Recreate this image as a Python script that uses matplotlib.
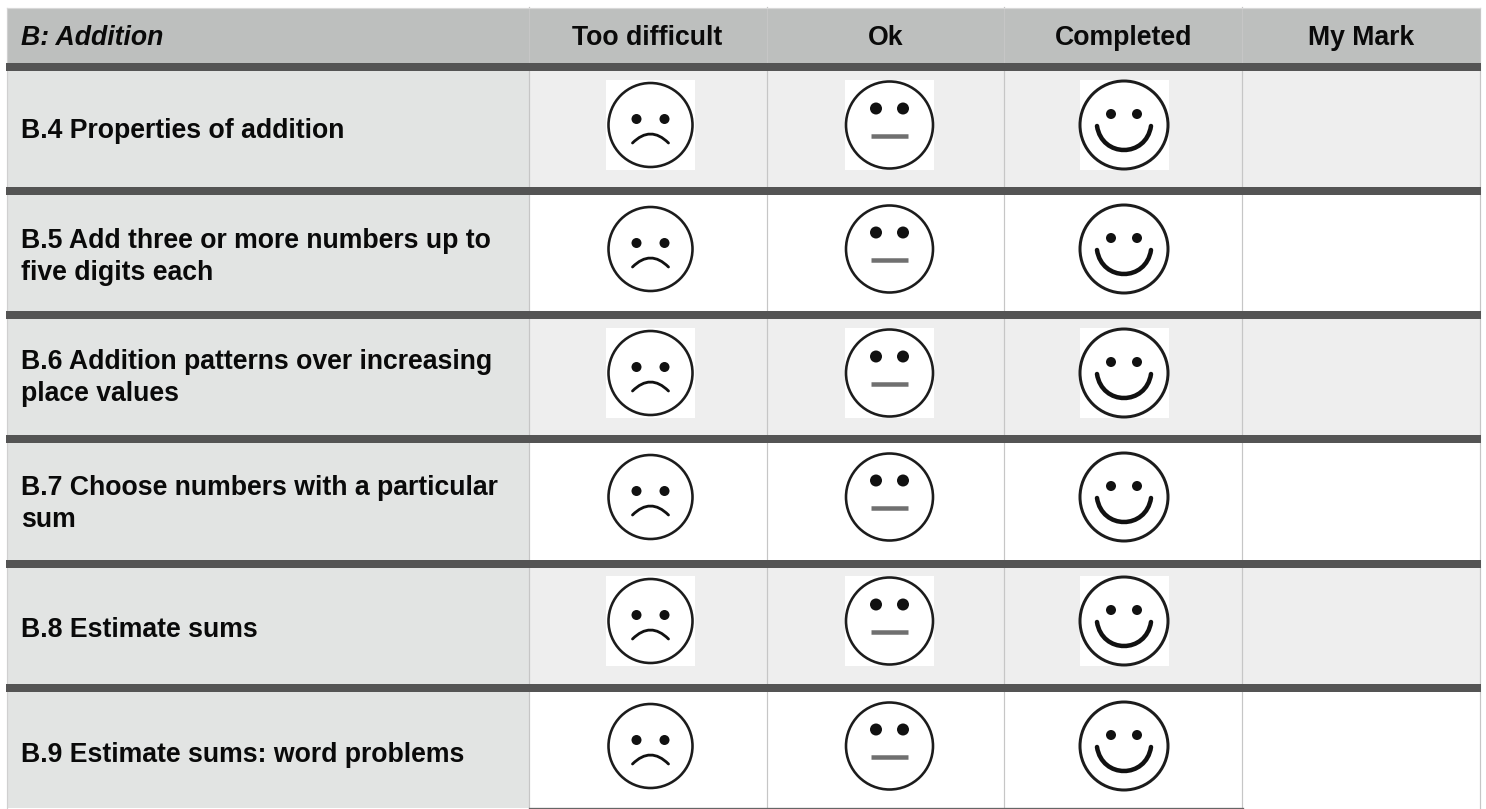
import matplotlib
matplotlib.use("Agg")
import matplotlib.pyplot as plt
from matplotlib.patches import Rectangle, Circle, PathPatch
from matplotlib.path import Path

plt.rcParams['font.family'] = ['Liberation Sans', 'DejaVu Sans']

title = "B: Addition"
columns = ["Too difficult", "Ok", "Completed", "My Mark"]
topics = ["B.4 Properties of addition",
          "B.5 Add three or more numbers up to\nfive digits each",
          "B.6 Addition patterns over increasing\nplace values",
          "B.7 Choose numbers with a particular\nsum",
          "B.8 Estimate sums",
          "B.9 Estimate sums: word problems"]
col_edges = [7, 529, 767, 1004, 1242, 1480]
col_text_x = [647, 885.5, 1124, 1361]
bar_tops = [63, 187, 311, 435, 560, 684]
bottom = 808
face_cy = [125, 249, 373, 497, 621, 746]
face_cx = [650.5, 889.5, 1124]
topic_baselines = [138, 248, 369, 495, 637, 762]
header_baseline = 45
line_gap = 32.3

HEADER = '#bdbfbe'; LEFT = '#e2e4e3'; SHADE = '#eeeeee'; BAR = '#545454'; GRID = '#c6c6c6'
W, H = 1486, 809
px = 72 / 100  # points per pixel

fig = plt.figure(figsize=(W / 100, H / 100), dpi=100)
ax = fig.add_axes([0, 0, 1, 1])
ax.set_xlim(0, W); ax.set_ylim(H, 0); ax.axis('off')

def rect(x0, y0, x1, y1, c, z=1):
    ax.add_patch(Rectangle((x0, y0), x1 - x0, y1 - y0, fc=c, ec='none', lw=0, zorder=z))

def curve(verts, codes, lw, c='#111111'):
    ax.add_patch(PathPatch(Path(verts, codes), fc='none', ec=c, lw=lw * px, capstyle='round', zorder=6))

def face(kind, cx, cy, box):
    if box:
        rect(cx - 44.5, cy - 45, cx + 44.5, cy + 45, 'white', 4)
    r = {'sad': 42, 'ok': 43.5, 'happy': 44}[kind]
    lw = {'sad': 2.6, 'ok': 2.6, 'happy': 3.0}[kind]
    ax.add_patch(Circle((cx, cy), r, fc='white', ec='#1c1c1c', lw=lw * px, zorder=5))
    eye = {'sad': (14, -6, 5), 'ok': (13.5, -16.5, 6), 'happy': (13, -11, 5)}[kind]
    for s in (-1, 1):
        ax.add_patch(Circle((cx + s * eye[0], cy + eye[1]), eye[2], fc='#111111', ec='none', zorder=6))
    if kind == 'sad':
        curve([(cx - 18, cy + 18), (cx, cy), (cx + 18, cy + 18)],
              [Path.MOVETO, Path.CURVE3, Path.CURVE3], 2.8)
    elif kind == 'ok':
        ax.plot([cx - 18.5, cx + 18.5], [cy + 11, cy + 11], color='#707070', lw=4.5 * px,
                solid_capstyle='butt', zorder=6)
    else:
        curve([(cx - 27, cy + 1), (cx - 22, cy + 33), (cx + 22, cy + 33), (cx + 27, cy + 1)],
              [Path.MOVETO, Path.CURVE4, Path.CURVE4, Path.CURVE4], 4.5)

# backgrounds
rect(col_edges[0], 8, col_edges[-1], bar_tops[0], HEADER)
rect(col_edges[0], bar_tops[0], col_edges[1], bottom, LEFT)
for i, top in enumerate(bar_tops):
    end = bar_tops[i + 1] if i + 1 < len(bar_tops) else bottom
    if i % 2 == 0:
        rect(col_edges[1], top, col_edges[-1], end, SHADE)

# grid
for x in col_edges[1:]:
    ax.plot([x, x], [7 if x != col_edges[-1] else 8, bottom], color=GRID, lw=1.2 * px, zorder=2)
ax.plot([col_edges[0], col_edges[0]], [8, bottom], color='#d0d0d0', lw=1.2 * px, zorder=2)
ax.plot([col_edges[0], col_edges[-1]], [8, 8], color='#d8d8d8', lw=1.2 * px, zorder=2)
ax.plot([col_edges[1], col_edges[4] + 1], [bottom, bottom], color='#666666', lw=1.3 * px, zorder=3)

# thick bars
for top in bar_tops:
    rect(col_edges[0] - 1, top, col_edges[-1] + 1, top + 8, BAR, 3)

# text
FS = 19.2
ax.text(21, header_baseline, title, fontsize=FS, fontweight='bold', fontstyle='italic',
        va='baseline', ha='left', color='#0a0a0a', zorder=7)
for x, c in zip(col_text_x, columns):
    ax.text(x, header_baseline, c, fontsize=FS, fontweight='bold', va='baseline', ha='center',
            color='#0a0a0a', zorder=7)
for base, t in zip(topic_baselines, topics):
    for j, line in enumerate(t.split('\n')):
        ax.text(21, base + j * line_gap, line, fontsize=FS, fontweight='bold', va='baseline',
                ha='left', color='#0a0a0a', zorder=7)

# faces
for i, cy in enumerate(face_cy):
    for kind, cx in zip(['sad', 'ok', 'happy'], face_cx):
        face(kind, cx, cy, i % 2 == 0)

fig.savefig('out.png', dpi=100, facecolor='white')
